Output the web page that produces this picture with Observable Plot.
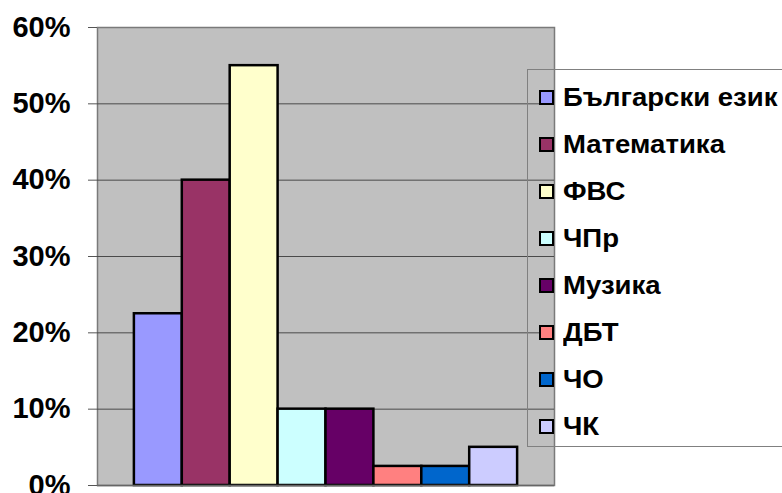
<!DOCTYPE html>
<html>
<head>
<meta charset="utf-8">
<script src="https://cdn.jsdelivr.net/npm/d3@7"></script>
<script src="https://cdn.jsdelivr.net/npm/@observablehq/plot@0.6"></script>
<style>
  html, body { margin: 0; padding: 0; background: #fff; }
  #wrap { position: relative; width: 782px; height: 493px; overflow: hidden; font-family: "Liberation Sans", Arial, sans-serif; }
  #legend { position: absolute; left: 527px; top: 69px; width: 270px; height: 378px; border: 1px solid #808080; box-sizing: border-box; }
  .item { position: absolute; left: 0; height: 30px; display: flex; align-items: center; }
  .sw { width: 11px; height: 11px; border: 2px solid #000; margin-left: 11px; margin-right: 9px; flex: none; }
  .lab { font-weight: bold; font-size: 26px; color: #000; white-space: nowrap; display: inline-block; transform: scaleX(1.06); transform-origin: left center; }
</style>
</head>
<body>
<div id="wrap"></div>
<script>
const subjects = ["Български език", "Математика", "ФВС", "ЧПр", "Музика", "ДБТ", "ЧО", "ЧК"];
const values = [22.5, 40, 55, 10, 10, 2.5, 2.5, 5];
const colors = ["#9999FF", "#993366", "#FFFFCC", "#CCFFFF", "#660066", "#FF8080", "#0066CC", "#CCCCFF"];
const yTicks = [0, 10, 20, 30, 40, 50, 60];
const gridTicks = [10, 20, 30, 40, 50];

const data = subjects.map((s, i) => ({subject: s, value: values[i]}));

const chart = Plot.plot({
  width: 782,
  height: 493,
  marginLeft: 97,
  marginRight: 228,
  marginTop: 27,
  marginBottom: 8,
  style: {fontFamily: "'Liberation Sans', Arial, sans-serif", background: "transparent", overflow: "visible"},
  x: {type: "band", domain: subjects, paddingInner: 0, paddingOuter: 0.77, round: false, axis: null},
  y: {domain: [0, 60]},
  color: {domain: subjects, range: colors},
  marks: [
    Plot.frame({fill: "#C0C0C0", stroke: "#7a7a7a", strokeWidth: 1.5}),
    Plot.gridY(gridTicks, {stroke: "#4a4a4a", strokeOpacity: 1, strokeWidth: 1}),
    Plot.axisY(yTicks, {
      tickSize: 9, tickPadding: 18, fontSize: 29, fontWeight: "bold",
      tickFormat: d => d + "%", stroke: "#555", fill: "#000", label: null
    }),
    Plot.barY(data, {x: "subject", y: "value", fill: "subject", stroke: "#000", strokeWidth: 2.5}),
    Plot.ruleY([0], {stroke: "#666", strokeWidth: 1.5})
  ]
});

const wrap = document.getElementById("wrap");
wrap.appendChild(chart);

const legend = document.createElement("div");
legend.id = "legend";
subjects.forEach((s, i) => {
  const item = document.createElement("div");
  item.className = "item";
  item.style.top = (27 + i * 47 - 15) + "px";
  const sw = document.createElement("div");
  sw.className = "sw";
  sw.style.background = colors[i];
  const lab = document.createElement("span");
  lab.className = "lab";
  lab.textContent = s;
  item.appendChild(sw);
  item.appendChild(lab);
  legend.appendChild(item);
});
wrap.appendChild(legend);
</script>
</body>
</html>
